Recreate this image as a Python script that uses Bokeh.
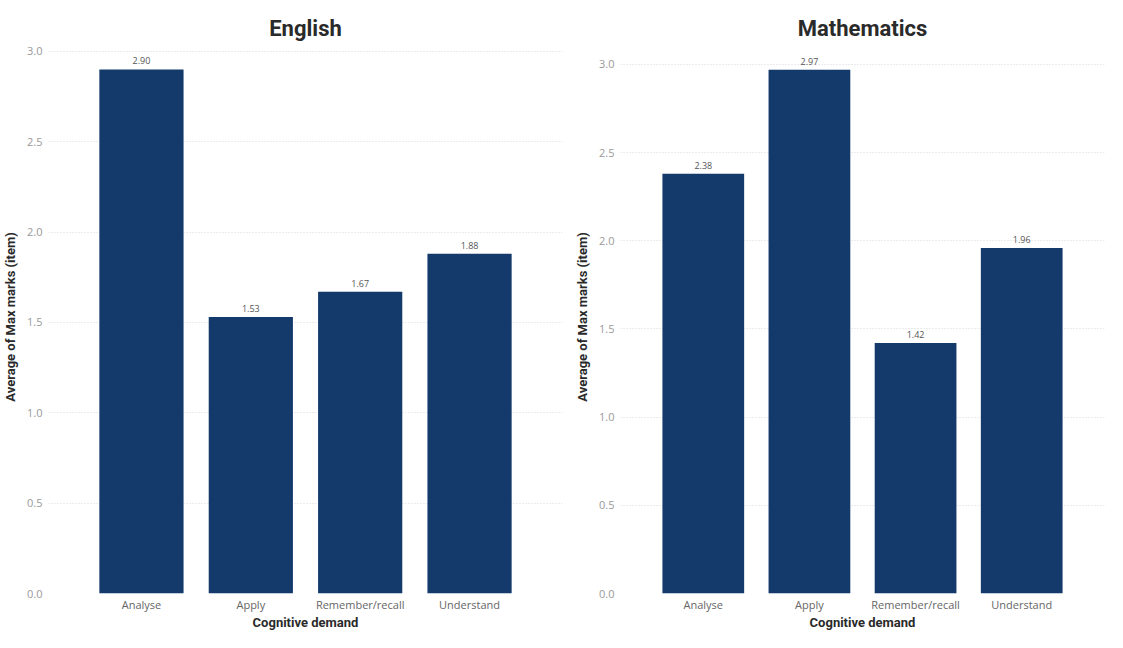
from bokeh.plotting import figure
from bokeh.layouts import row
from bokeh.models import ColumnDataSource, FactorRange, SingleIntervalTicker, CustomJSTickFormatter
from bokeh.core.properties import value
from bokeh.embed import file_html
from bokeh.resources import INLINE

categories = ["Analyse", "Apply", "Remember/recall", "Understand"]
english_values = [2.90, 1.53, 1.67, 1.88]
maths_values = [2.38, 2.97, 1.42, 1.96]
titles = ["English", "Mathematics"]
x_label = "Cognitive demand"
y_label = "Average of Max marks (item)"

BAR = "#133A6B"
FONT = "Open Sans"
TITLE_FONT = "Roboto"


def make(title, vals, width, border_left, border_right, y_end, pad):
    src = ColumnDataSource(dict(cat=categories, val=vals,
                                lab=[f"{v:.2f}" for v in vals]))
    p = figure(x_range=FactorRange(factors=categories, range_padding=pad),
               y_range=(0, y_end), width=width, height=632,
               output_backend="svg", toolbar_location=None,
               min_border_left=border_left, min_border_right=border_right,
               min_border_top=40, min_border_bottom=0,
               title=title)
    p.title.text_font = TITLE_FONT
    p.title.text_font_size = "22px"
    p.title.text_font_style = "bold"
    p.title.text_color = "#2a2a2a"
    p.title.align = "center"
    p.title.standoff = 0
    p.vbar(x="cat", top="val", width=0.77, source=src, color=BAR, line_color=None)
    p.text(x="cat", y="val", text="lab", source=src, y_offset=-5,
           text_align="center", text_baseline="bottom",
           text_font=value(FONT), text_font_size="9px", text_color="#555555")
    p.outline_line_color = None
    p.background_fill_color = "white"
    p.border_fill_color = "white"
    p.xgrid.grid_line_color = None
    p.ygrid.grid_line_color = "#d8d8d8"
    p.ygrid.grid_line_dash = "1 2"
    p.yaxis.ticker = SingleIntervalTicker(interval=0.5)
    p.yaxis.formatter = CustomJSTickFormatter(code="return tick.toFixed(1);")
    for ax in (p.xaxis[0], p.yaxis[0]):
        ax.axis_line_color = None
        ax.major_tick_line_color = None
        ax.minor_tick_line_color = None
        ax.major_tick_out = 0
        ax.major_tick_in = 0
        ax.minor_tick_out = 0
        ax.minor_tick_in = 0
        ax.major_label_text_font = FONT
        ax.major_label_text_font_size = "11px"
        ax.axis_label_text_font = TITLE_FONT
        ax.axis_label_text_font_size = "13px"
        ax.axis_label_text_font_style = "bold"
        ax.axis_label_text_color = "#2a2a2a"
        ax.axis_label_text_line_height = 1.0
        ax.major_label_text_line_height = 1.0
    p.xaxis.major_label_text_color = "#666666"
    p.yaxis.major_label_text_color = "#999999"
    p.xaxis.axis_label = x_label
    p.yaxis.axis_label = y_label
    p.xaxis.major_label_standoff = 3
    p.xaxis.axis_label_standoff = 0
    p.yaxis.major_label_standoff = 6
    p.yaxis.axis_label_standoff = 6
    return p


p1 = make(titles[0], english_values, 572, 44, 10, 3.06, 0.175)
p2 = make(titles[1], maths_values, 535, 42, 3, 3.136, 0.14)
layout = row(p1, p2)

open("out.html", "w").write(file_html(layout, INLINE))
